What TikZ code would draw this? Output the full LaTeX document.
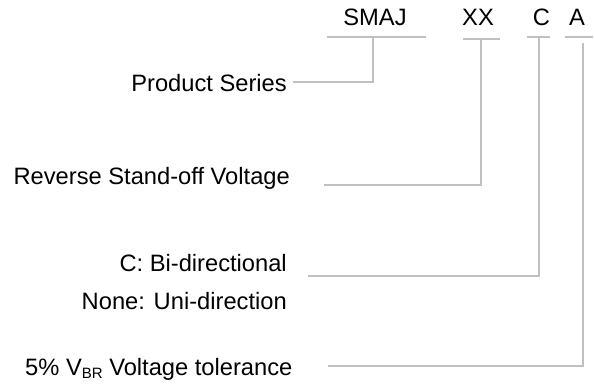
\documentclass[tikz,border=0pt]{standalone}
\usepackage{fontspec}
\setmainfont{Liberation Sans}
\definecolor{linegray}{RGB}{192,192,192}
\tikzset{
  lbl/.style={inner sep=0pt, font=\fontsize{23.7}{28}\selectfont, text=black},
  conn/.style={draw=linegray, line width=2pt},
}
\newcommand{\subBR}{{\fontsize{15}{15}\selectfont\raisebox{-3.5pt}{BR}}}
\begin{document}
\begin{tikzpicture}[x=1pt,y=-1pt]
\useasboundingbox[fill=white] (0,0) rectangle (594,384);
% code letters
\node[lbl, anchor=base] (smaj) at (375,25) {SMAJ};
\node[lbl, anchor=base] (xx) at (478,25) {XX};
\node[lbl, anchor=base] (c) at (541.5,25) {C};
\node[lbl, anchor=base] (a) at (577,25) {A};
% descriptions
\node[lbl, anchor=base east] (ps) at (287,91) {Product Series};
\node[lbl, anchor=base east] (rsv) at (290,184) {Reverse Stand-off Voltage};
\node[lbl, anchor=base east] (bi) at (287,271) {C: Bi-directional};
\node[lbl, anchor=base east] (uni) at (287,309) {None: Uni-direction};
\node[lbl, anchor=base west] (tol) at (25,375) {5\% V\subBR{} Voltage tolerance};
% bars under the code letters
\coordinate (smajL) at (327,37); \coordinate (smajR) at (426,37);
\coordinate (xxL) at (463,39); \coordinate (xxR) at (500,39);
\coordinate (cL) at (527,37); \coordinate (cR) at (550,37);
\coordinate (aL) at (565,37); \coordinate (aR) at (593,37);
\draw[conn] (smajL) -- (smajR);
\draw[conn] (xxL) -- (xxR);
\draw[conn] (cL) -- (cR);
\draw[conn] (aL) -- (aR);
% leader ends
\coordinate (smajT) at (373,37);
\coordinate (xxT) at (481,39);
\coordinate (cT) at (539,37);
\coordinate (aT) at (583,43);
\coordinate (psE) at (293,82);
\coordinate (rsvE) at (324,185);
\coordinate (biE) at (308,276);
\coordinate (tolE) at (328,366);
\draw[conn] (smajT) |- (psE);
\draw[conn] (xxT) |- (rsvE);
\draw[conn] (cT) |- (biE);
\draw[conn] (aT) |- (tolE);
\end{tikzpicture}
\end{document}
